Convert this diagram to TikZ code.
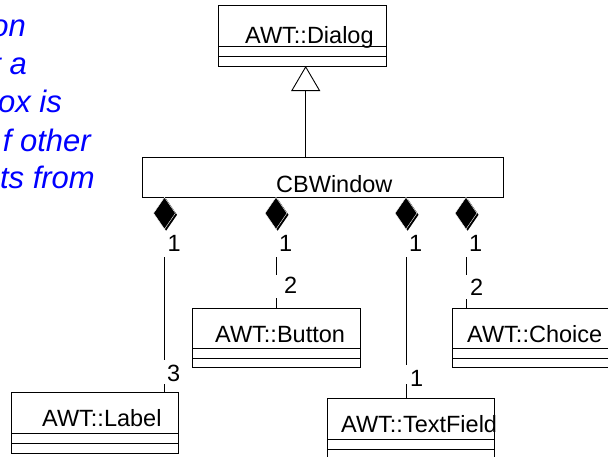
\documentclass[tikz,border=0pt]{standalone}
\usepackage{fontspec}
\setmainfont{Liberation Sans}
\usetikzlibrary{arrows.meta,shapes.geometric,shadows}

\begin{document}
\begin{tikzpicture}[x=1pt,y=-1pt,
  classbox/.style={draw, line width=1.1pt, inner sep=0pt, minimum width=168pt,
    minimum height=61pt, anchor=north west},
  cname/.style={font=\fontsize{23.5}{28}\selectfont, inner sep=0pt, anchor=base west},
  mult/.style={font=\fontsize{23.5}{28}\selectfont, inner sep=0pt, anchor=base west},
  divider/.style={line width=0.9pt},
  link/.style={line width=0.9pt},
  comp/.style={diamond, fill=black, draw=white, line width=0.4pt, inner sep=0pt,
    minimum width=22pt, minimum height=32pt, anchor=north,
    general shadow={fill=black, shadow xshift=1.6pt, shadow yshift=-1.6pt}},
  note/.style={font=\itshape\fontsize{31}{38}\selectfont, text=blue, inner sep=0pt,
    anchor=base east}]

\useasboundingbox (0,0) rectangle (608,456);

% explanatory note (left margin)
\node[note] (n1) at (26,36)  {on};
\node[note] (n2) at (27,74)  {t a};
\node[note] (n3) at (62,112) {ox is};
\node[note] (n4) at (91,151) {f other};
\node[note] (n5) at (95,188) {ts from};

% classes
\node[classbox] (dialog) at (218,5) {};
\node[cname] (dialogt) at (245,43.3) {AWT::Dialog};
\draw[divider] ([yshift=-41.3pt]dialog.north west) -- ([yshift=-41.3pt]dialog.north east);
\draw[divider] ([yshift=-51.7pt]dialog.north west) -- ([yshift=-51.7pt]dialog.north east);

\node[classbox, minimum width=361pt, minimum height=40pt] (cbw) at (142,157) {};
\node[cname] (cbwt) at (276,192.7) {CBWindow};

\node[classbox, minimum height=59pt] (button) at (192,308) {};
\node[cname] (buttont) at (215,342) {AWT::Button};
\draw[divider] ([yshift=-40pt]button.north west) -- ([yshift=-40pt]button.north east);
\draw[divider] ([yshift=-50pt]button.north west) -- ([yshift=-50pt]button.north east);

\node[classbox, minimum width=167pt, minimum height=59pt] (choice) at (452,308) {};
\node[cname] (choicet) at (467,342) {AWT::Choice};
\draw[divider] ([yshift=-40pt]choice.north west) -- ([yshift=-40pt]choice.north east);
\draw[divider] ([yshift=-50pt]choice.north west) -- ([yshift=-50pt]choice.north east);

\node[classbox, minimum width=167pt] (label) at (11,392) {};
\node[cname] (labelt) at (42,426) {AWT::Label};
\draw[divider] ([yshift=-41pt]label.north west) -- ([yshift=-41pt]label.north east);
\draw[divider] ([yshift=-51pt]label.north west) -- ([yshift=-51pt]label.north east);

\node[classbox, minimum width=167pt] (tfield) at (327,398) {};
\node[cname] (tfieldt) at (341,432) {AWT::TextField};
\draw[divider] ([yshift=-41.3pt]tfield.north west) -- ([yshift=-41.3pt]tfield.north east);
\draw[divider] ([yshift=-51.3pt]tfield.north west) -- ([yshift=-51.3pt]tfield.north east);

% generalisation
\coordinate (gtip) at (305.7,66);
\draw[link, -{Triangle[open, length=25pt, width=29pt]}] (gtip |- cbw.south) ++(0,-40) -- (gtip);

% composition diamonds
\node[comp] (dl) at (164.5,197) {};
\node[comp] (db) at (276,197) {};
\node[comp] (dt) at (406,197) {};
\node[comp] (dc) at (466,197) {};

% multiplicities at the whole end
\node[mult] (ml) at (167.5,251) {1};
\node[mult] (mb) at (279,251) {1};
\node[mult] (mt) at (409,251) {1};
\node[mult] (mc) at (469,251) {1};

% multiplicities at the part end
\node[mult] (pl) at (167,381) {3};
\node[mult] (pb) at (284,293.3) {2};
\node[mult] (pt) at (410,386.5) {1};
\node[mult] (pc) at (470,295) {2};

% composition links
\coordinate (la) at (164,257); \coordinate (lb) at (164,360); \coordinate (lc) at (164,384);
\draw[link] (la) -- (lb);
\draw[link] (lc) -- (lc |- label.north);

\coordinate (ba) at (276,257); \coordinate (bb) at (276,275); \coordinate (bc) at (276,298);
\draw[link] (ba) -- (bb);
\draw[link] (bc) -- (bc |- button.north);

\coordinate (ta) at (406,257); \coordinate (tb) at (406,365); \coordinate (tc) at (406,384.3);
\draw[link] (ta) -- (tb);
\draw[link] (tc) -- (tc |- tfield.north);

\coordinate (ca) at (466.5,257); \coordinate (cb) at (466.5,275); \coordinate (cc) at (466.5,299);
\draw[link] (ca) -- (cb);
\draw[link] (cc) -- (cc |- choice.north);
\end{tikzpicture}
\end{document}
